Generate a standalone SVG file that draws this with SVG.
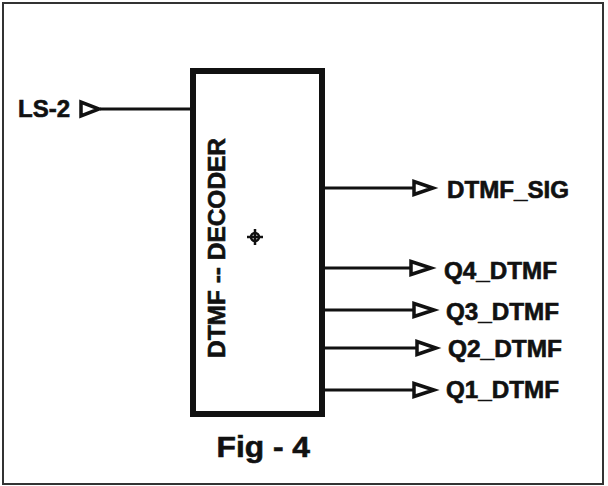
<svg xmlns="http://www.w3.org/2000/svg" width="608" height="486" viewBox="0 0 608 486">
<style>
.lbl{font-family:"Liberation Sans",Arial,sans-serif;font-weight:bold;fill:#111;stroke:#111;stroke-width:0.6}
.wire{stroke:#111;stroke-width:3;fill:none}
.port{stroke:#111;stroke-width:3.5;fill:#fff;stroke-linejoin:miter}
</style>
<rect width="608" height="486" fill="#fff"/>
<rect x="3" y="3" width="600" height="481" fill="none" stroke="#333" stroke-width="2"/>
<g id="decoder">
<rect x="193" y="71" width="129" height="343" fill="#fff" stroke="#111" stroke-width="6"/>
<text class="lbl" font-size="24.5" transform="translate(225,358) rotate(-90)" textLength="220" lengthAdjust="spacingAndGlyphs">DTMF -- DECODER</text>
<g stroke="#111" stroke-width="2.5" fill="none">
<circle cx="255" cy="237" r="4"/>
<line x1="247" y1="237" x2="263" y2="237"/>
<line x1="255" y1="229" x2="255" y2="245"/>
</g>
</g>
<g id="connectors">
<line class="wire" x1="100" y1="109" x2="193" y2="109"/>
<line class="wire" x1="322" y1="188" x2="414" y2="188"/>
<line class="wire" x1="322" y1="268" x2="411" y2="268"/>
<line class="wire" x1="322" y1="310" x2="414" y2="310"/>
<line class="wire" x1="322" y1="348" x2="417" y2="348"/>
<line class="wire" x1="322" y1="390" x2="414" y2="390"/>
</g>
<g id="port-ls2">
<polygon class="port" points="81,102 81,116 99,109"/>
<text class="lbl" x="18" y="117" font-size="23" textLength="52" lengthAdjust="spacingAndGlyphs">LS-2</text>
</g>
<g id="port-dtmf-sig">
<polygon class="port" points="414,181.5 414,194.5 433,188"/>
<text class="lbl" x="447" y="198" font-size="23" textLength="122" lengthAdjust="spacingAndGlyphs">DTMF_SIG</text>
</g>
<g id="port-q4">
<polygon class="port" points="411,261.5 411,274.5 431,268"/>
<text class="lbl" x="444" y="278.5" font-size="23" textLength="113" lengthAdjust="spacingAndGlyphs">Q4_DTMF</text>
</g>
<g id="port-q3">
<polygon class="port" points="414,303.5 414,316.5 434,310"/>
<text class="lbl" x="446" y="319.5" font-size="23" textLength="113" lengthAdjust="spacingAndGlyphs">Q3_DTMF</text>
</g>
<g id="port-q2">
<polygon class="port" points="417,341.5 417,354.5 436,348"/>
<text class="lbl" x="448" y="357" font-size="23" textLength="114" lengthAdjust="spacingAndGlyphs">Q2_DTMF</text>
</g>
<g id="port-q1">
<polygon class="port" points="414,383.5 414,396.5 434,390"/>
<text class="lbl" x="446" y="398" font-size="23" textLength="113" lengthAdjust="spacingAndGlyphs">Q1_DTMF</text>
</g>
<text class="lbl" x="216.5" y="457" font-size="30" textLength="93.5" lengthAdjust="spacingAndGlyphs">Fig - 4</text>
</svg>
